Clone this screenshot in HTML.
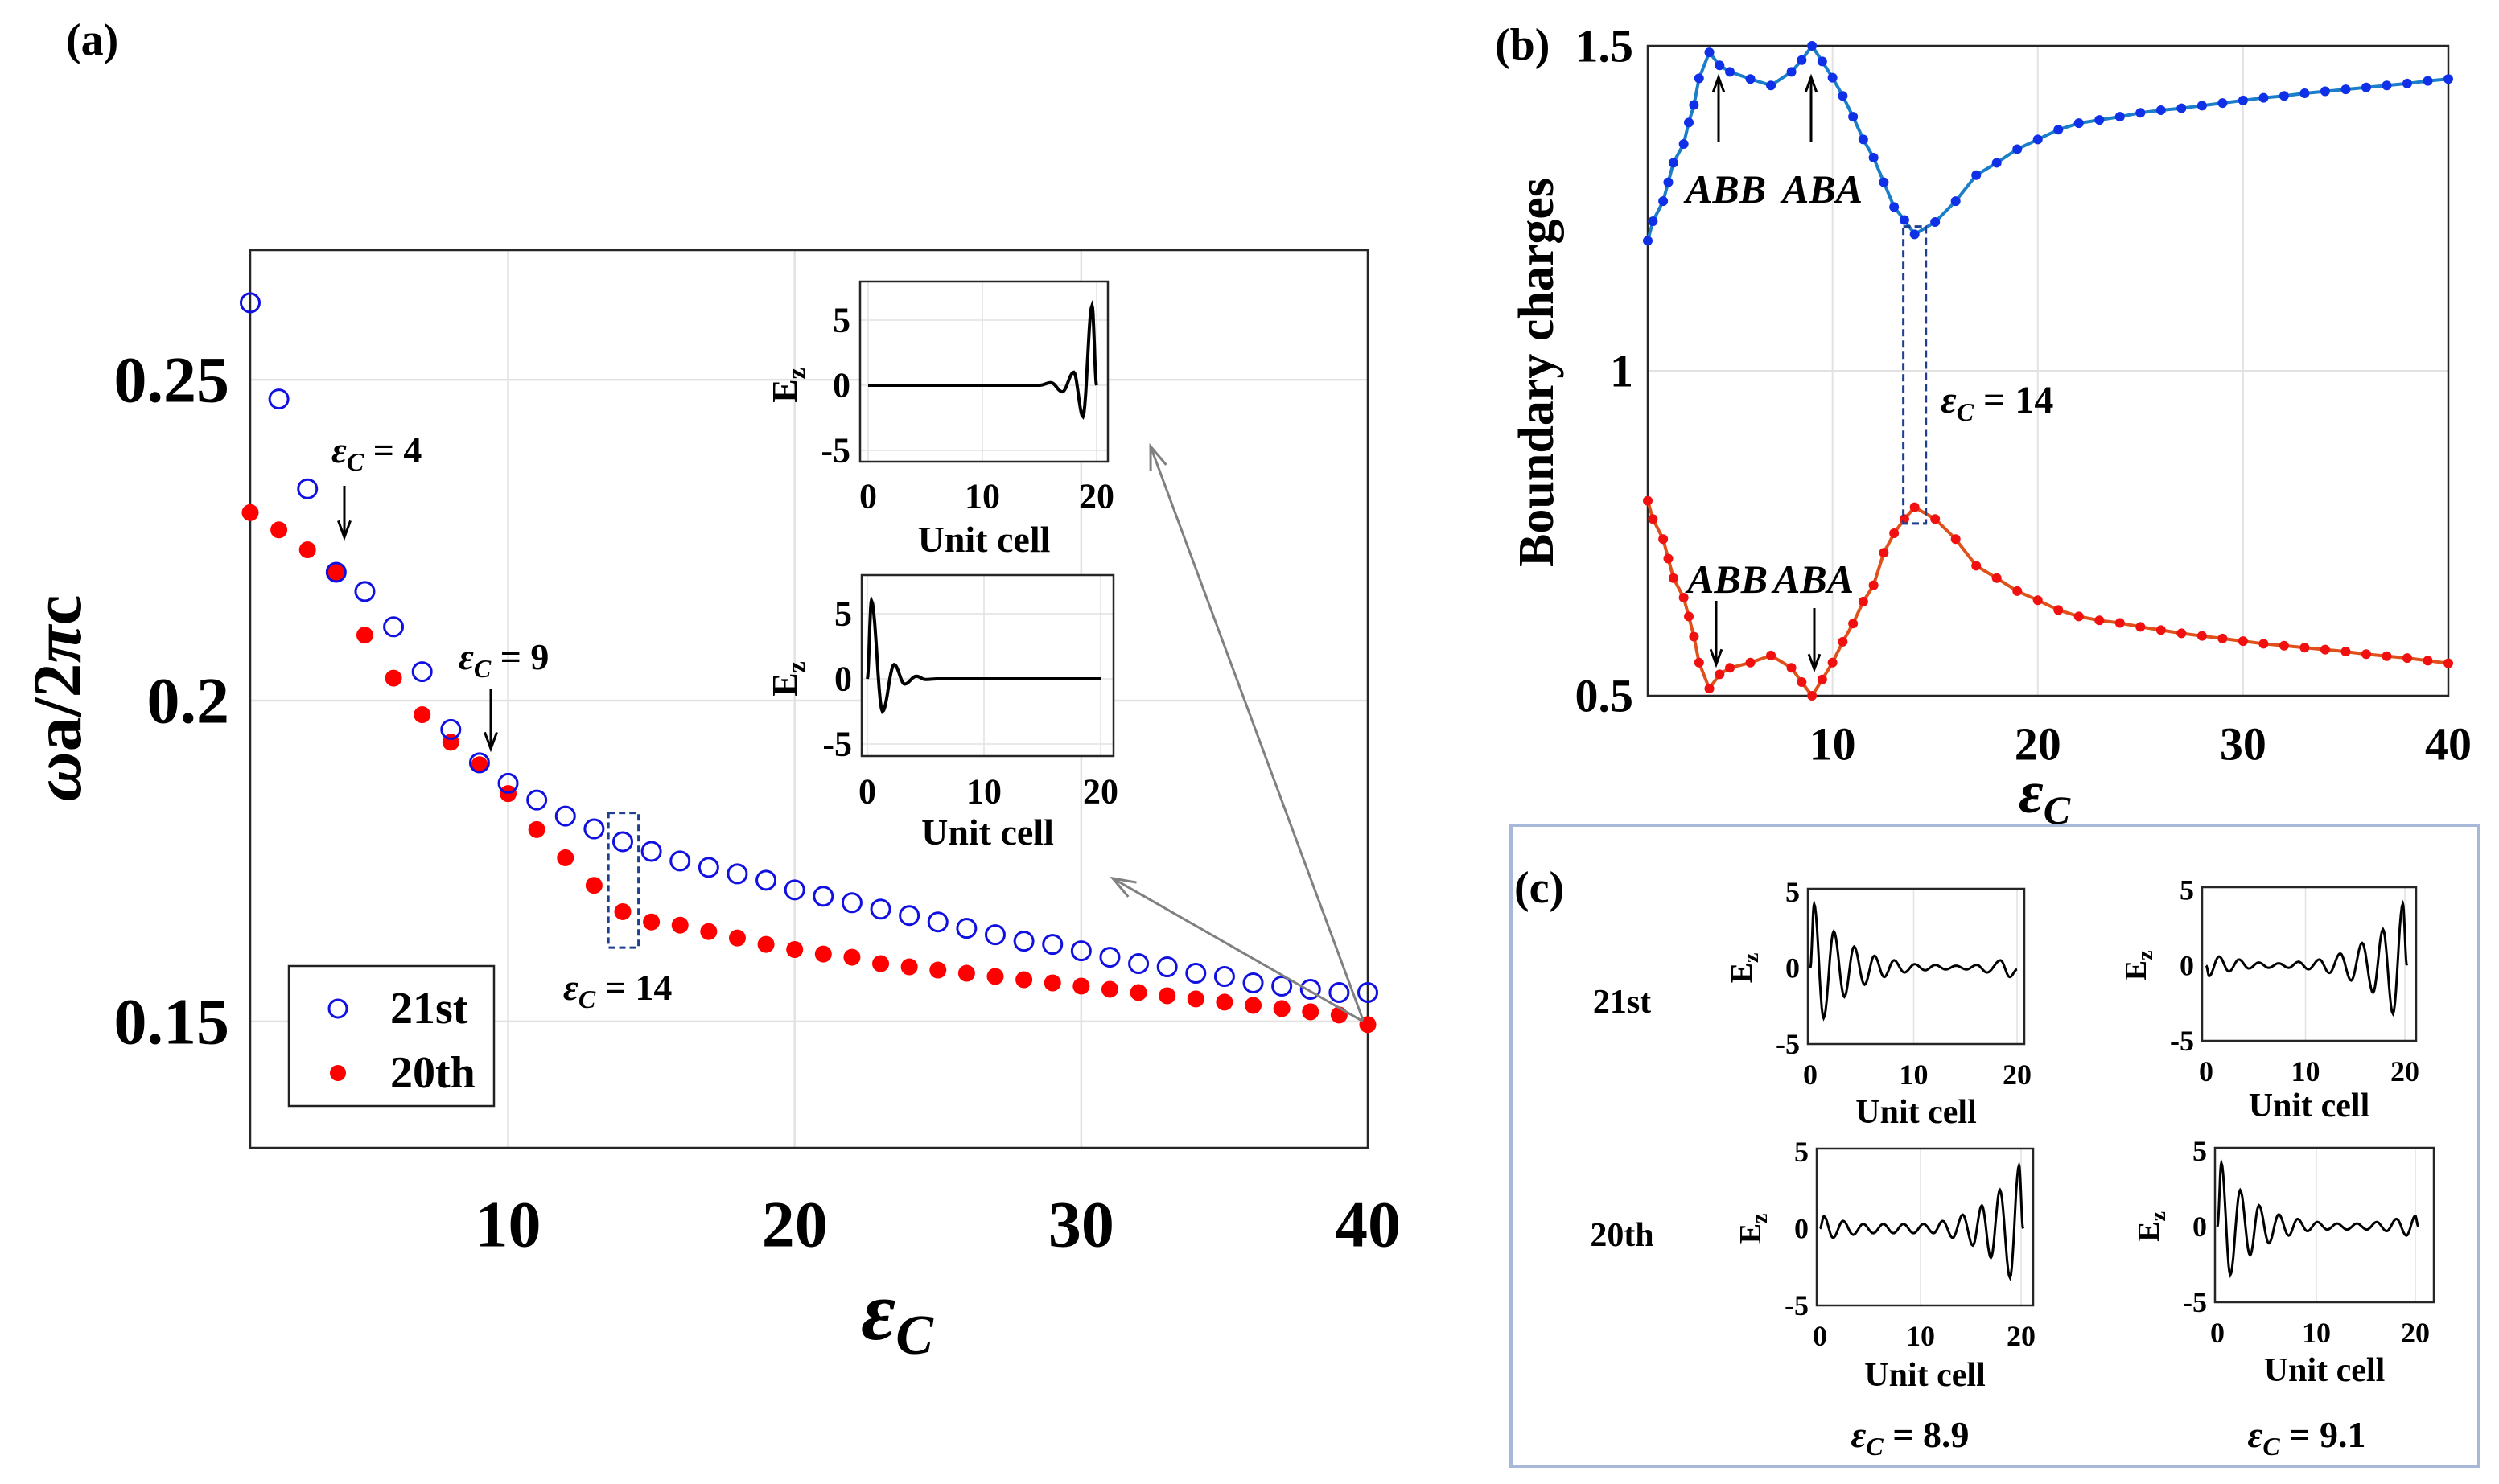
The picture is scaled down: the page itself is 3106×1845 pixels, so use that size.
<!DOCTYPE html>
<html><head><meta charset="utf-8"><style>
html,body{margin:0;padding:0;background:#fff;}
svg{display:block;font-family:"Liberation Serif",serif;}
.b{font-weight:bold;}
</style></head><body>
<svg id="fig" width="3106" height="1845" viewBox="0 0 3106 1845" xmlns="http://www.w3.org/2000/svg">
<rect width="3106" height="1845" fill="#fff"/>
<g id="pa"></g>
<g id="pb"></g>
<g id="pc"></g>
<!-- static labels -->
<text x="82" y="68" font-size="56" class="b">(a)</text>
<text x="1858" y="74" font-size="56" class="b">(b)</text>
<text x="1882" y="1122" font-size="56" class="b">(c)</text>
<text transform="translate(100,868) rotate(-90)" text-anchor="middle" font-size="86" class="b"><tspan font-style="italic">ω</tspan>a/2<tspan font-style="italic">π</tspan>c</text>
<text x="1115" y="1665" text-anchor="middle" font-size="105" class="b" font-style="italic">ε<tspan font-size="70" dy="18">C</tspan></text>
<text transform="translate(1930,463) rotate(-90)" text-anchor="middle" font-size="62" class="b">Boundary charges</text>
<text x="2541" y="1010" text-anchor="middle" font-size="75" class="b" font-style="italic">ε<tspan font-size="50" dy="14">C</tspan></text>
<!-- annotations a -->
<text x="412" y="575" font-size="46" class="b"><tspan font-style="italic">ε</tspan><tspan font-style="italic" font-size="32" dy="10">C</tspan><tspan dy="-10"> = 4</tspan></text>
<text x="570" y="832" font-size="46" class="b"><tspan font-style="italic">ε</tspan><tspan font-style="italic" font-size="32" dy="10">C</tspan><tspan dy="-10"> = 9</tspan></text>
<text x="700" y="1243" font-size="46" class="b"><tspan font-style="italic">ε</tspan><tspan font-style="italic" font-size="32" dy="10">C</tspan><tspan dy="-10"> = 14</tspan></text>
<!-- legend a -->
<g>
<rect x="359" y="1201" width="255" height="174" fill="#fff" stroke="#222" stroke-width="2.5"/>
<circle cx="420" cy="1254" r="11" fill="none" stroke="#1010e0" stroke-width="3"/>
<text x="485" y="1272" font-size="56" class="b">21st</text>
<circle cx="420" cy="1334" r="10" fill="#ff0000"/>
<text x="485" y="1352" font-size="56" class="b">20th</text>
</g>
<!-- annotations b -->
<text x="2095" y="252" font-size="50" class="b" font-style="italic">ABB</text>
<text x="2215" y="252" font-size="50" class="b" font-style="italic">ABA</text>
<text x="2097" y="737" font-size="50" class="b" font-style="italic">ABB</text>
<text x="2204" y="737" font-size="50" class="b" font-style="italic">ABA</text>
<text x="2412" y="513" font-size="48" class="b"><tspan font-style="italic">ε</tspan><tspan font-style="italic" font-size="32" dy="10">C</tspan><tspan dy="-10"> = 14</tspan></text>
<!-- panel c frame & labels -->
<rect x="1878" y="1026" width="1203" height="797" fill="none" stroke="#a8b8d8" stroke-width="4"/>
<text x="2016" y="1259" text-anchor="middle" font-size="42" class="b">21st</text>
<text x="2016" y="1549" text-anchor="middle" font-size="42" class="b">20th</text>
<text x="2374" y="1799" text-anchor="middle" font-size="46" class="b"><tspan font-style="italic">ε</tspan><tspan font-style="italic" font-size="32" dy="10">C</tspan><tspan dy="-10"> = 8.9</tspan></text>
<text x="2867" y="1799" text-anchor="middle" font-size="46" class="b"><tspan font-style="italic">ε</tspan><tspan font-style="italic" font-size="32" dy="10">C</tspan><tspan dy="-10"> = 9.1</tspan></text>
</svg>
<script>
// ---------- data: panel a ----------
const aX=[1,2,3,4,5,6,7,8,9,10,11,12,13,14,15,16,17,18,19,20,21,22,23,24,25,26,27,28,29,30,31,32,33,34,35,36,37,38,39,40];
const a21=[0.262,0.247,0.233,0.220,0.217,0.2115,0.2045,0.1955,0.1903,0.1871,0.1845,0.182,0.180,0.178,0.1765,0.175,0.174,0.173,0.172,0.1705,0.1695,0.1685,0.1675,0.1665,0.1655,0.1645,0.1635,0.1625,0.162,0.161,0.160,0.159,0.1585,0.1575,0.157,0.156,0.1555,0.155,0.1545,0.1545];
const a20=[0.2293,0.2266,0.2235,0.220,0.2102,0.2035,0.1978,0.1935,0.190,0.1855,0.1799,0.1755,0.1712,0.1671,0.1655,0.165,0.164,0.163,0.162,0.1612,0.1605,0.160,0.159,0.1585,0.158,0.1575,0.157,0.1565,0.156,0.1555,0.155,0.1545,0.154,0.1535,0.153,0.1525,0.152,0.1515,0.151,0.1495];
const aXTicks=[10,20,30,40];
const aYTicks=[0.15,0.2,0.25];
const aYTickLabels=["0.15","0.2","0.25"];
// inset curves (a)
const insTopX=[0,15,16,17,18,18.8,19.6,20];
const insTopY=[0,0,0.2,-0.5,1.0,-2.4,6.1,0];
const insBotX=[0,0.35,1.3,2.3,3.2,4.2,5,6,20];
const insBotY=[0,6.0,-2.5,1.1,-0.4,0.2,-0.05,0,0];
const insXTicks=[0,10,20];
const insYTicks=[-5,0,5];
// ---------- data: panel b ----------
const bX=[1,1.25,1.75,2,2.25,2.75,3,3.25,3.5,4,4.5,5,6,7,8,8.5,9,9.5,10,10.5,11,11.5,12,12.5,13,13.5,14,15,16,17,18,19,20,21,22,23,24,25,26,27,28,29,30,31,32,33,34,35,36,37,38,39,40];
const bBlue=[1.20,1.23,1.261,1.29,1.32,1.349,1.382,1.409,1.45,1.49,1.47,1.46,1.449,1.439,1.46,1.478,1.5,1.476,1.451,1.423,1.391,1.356,1.328,1.29,1.252,1.232,1.21,1.229,1.261,1.301,1.32,1.341,1.356,1.371,1.381,1.386,1.391,1.397,1.401,1.404,1.408,1.412,1.416,1.42,1.423,1.427,1.43,1.433,1.436,1.439,1.442,1.446,1.449];
const bRed=[0.8,0.772,0.741,0.711,0.681,0.651,0.622,0.591,0.551,0.511,0.533,0.543,0.551,0.562,0.543,0.521,0.5,0.525,0.551,0.583,0.611,0.645,0.67,0.72,0.75,0.772,0.79,0.772,0.741,0.7,0.681,0.661,0.647,0.632,0.622,0.616,0.612,0.606,0.601,0.596,0.592,0.588,0.584,0.58,0.577,0.574,0.571,0.568,0.564,0.561,0.558,0.554,0.55];
const bXTicks=[10,20,30,40];
const bYTicks=[0.5,1,1.5];
const bYTickLabels=["0.5","1","1.5"];
// ---------- data: panel c ----------
const c1X=[0,0.37,1.29,2.27,3.3,4.23,5.25,6.2,7.15,8.1,9.1,10.1,11.1,12.1,13.1,14.1,15.1,16.1,17.1,18.4,19.3,20];
const c1Y=[0,4.2,-3.3,2.4,-1.9,1.4,-1.1,0.8,-0.6,0.5,-0.3,0.25,-0.15,0.2,-0.1,0.15,-0.1,0.2,-0.3,0.5,-0.6,-0.1];
const c2X=[0,0.3,1.3,2.3,3.3,4.3,5.3,6.3,7.3,8.3,9.3,10.3,11.4,12.4,13.5,14.6,15.7,16.8,17.8,18.8,19.8,20.2];
const c2Y=[0,-0.7,0.6,-0.4,0.4,-0.2,0.2,-0.15,0.15,-0.15,0.25,-0.25,0.4,-0.5,0.8,-1.0,1.5,-1.8,2.4,-3.2,4.1,0];
const c3X=[0,0.4,1.3,2.3,3.3,4.3,5.3,6.3,7.3,8.3,9.3,10.3,11.3,12.2,13.2,14.2,15.2,16.1,17.0,17.9,18.9,19.8,20.2];
const c3Y=[0,0.8,-0.6,0.5,-0.4,0.3,-0.3,0.3,-0.3,0.3,-0.3,0.3,-0.3,0.5,-0.6,0.9,-1.1,1.5,-1.9,2.5,-3.2,4.1,0];
const c4X=[0,0.4,1.3,2.3,3.3,4.2,5.2,6.2,7.2,8.1,9.1,10.1,11.1,12.1,13.1,14.1,15.1,16.1,17.1,18.1,19.1,20,20.3];
const c4Y=[0,4.2,-3.2,2.4,-1.9,1.4,-1.1,0.8,-0.6,0.5,-0.3,0.3,-0.2,0.2,-0.2,0.2,-0.2,0.3,-0.3,0.5,-0.6,0.7,0];
const cXTicks=[0,10,20];
const cYTicks=[-5,0,5];

const NS="http://www.w3.org/2000/svg";
function mk(parent,tag,attrs){const e=document.createElementNS(NS,tag);for(const k in attrs)e.setAttribute(k,attrs[k]);parent.appendChild(e);return e;}
function lin(d0,d1,r0,r1){return v=>r0+(v-d0)/(d1-d0)*(r1-r0);}
function smoothPath(xs,ys,sx,sy){
  let d="M"+sx(xs[0]).toFixed(1)+","+sy(ys[0]).toFixed(1);
  for(let i=1;i<xs.length;i++){
    for(let k=1;k<=10;k++){const t=k/10;const m=(1-Math.cos(Math.PI*t))/2;
      const x=xs[i-1]+(xs[i]-xs[i-1])*t;const y=ys[i-1]+(ys[i]-ys[i-1])*m;
      d+=" L"+sx(x).toFixed(1)+","+sy(y).toFixed(1);}
  }
  return d;
}
function axesFrame(g,L,T,R,B,sx,sy,xt,yt,grid,name){
  const bg=mk(g,'rect',{x:L,y:T,width:R-L,height:B-T,fill:'#fff'});
  
  
  xt.forEach(v=>{const l=mk(g,'line',{x1:sx(v),x2:sx(v),y1:T,y2:B,stroke:'#e2e2e2','stroke-width':grid});
    
    });
  yt.forEach(v=>{const l=mk(g,'line',{x1:L,x2:R,y1:sy(v),y2:sy(v),stroke:'#e2e2e2','stroke-width':grid});
    
    });
  const fr=mk(g,'rect',{x:L,y:T,width:R-L,height:B-T,fill:'none',stroke:'#262626','stroke-width':2.5});
  
  
}
function txt(g,x,y,s,size,anchor,extra){const t=mk(g,'text',Object.assign({x:x,y:y,'font-size':size,'text-anchor':anchor,'font-weight':'bold','dominant-baseline':'central'},extra||{}));t.textContent=s;return t;}
function arrow(g,x1,y1,x2,y2,color,w,head){
  const l=mk(g,'line',{x1:x1,y1:y1,x2:x2,y2:y2,stroke:color,'stroke-width':w});
  
  
  const a=Math.atan2(y2-y1,x2-x1),h=head;
  const p=mk(g,'polyline',{points:(x2-h*Math.cos(a-0.35))+","+(y2-h*Math.sin(a-0.35))+" "+x2+","+y2+" "+(x2-h*Math.cos(a+0.35))+","+(y2-h*Math.sin(a+0.35)),fill:'none',stroke:color,'stroke-width':w});
  
  
}

// ---------- panel a ----------
(function(){
  const g=document.getElementById('pa');
  const L=311,R=1700,T=311,B=1427;
  const sx=lin(1,40,L,R), sy=lin(0.1303,0.2702,B,T);
  axesFrame(g,L,T,R,B,sx,sy,aXTicks,aYTicks,2.5,'main');
  aXTicks.forEach(v=>{const t=txt(g,sx(v),1522,String(v),82,'middle');
    
    });
  aYTicks.forEach((v,i)=>{const t=txt(g,285,sy(v),aYTickLabels[i],82,'end');
    
    });
  aX.forEach((x,i)=>{const c=mk(g,'circle',{cx:sx(x),cy:sy(a20[i]),r:10.5,fill:'#ff0000'});
    
    });
  aX.forEach((x,i)=>{const c=mk(g,'circle',{cx:sx(x),cy:sy(a21[i]),r:11.5,fill:'none',stroke:'#1010e0','stroke-width':3});
    
    });
  const dr=mk(g,'rect',{x:sx(13.5),y:sy(0.1825),width:sx(14.55)-sx(13.5),height:sy(0.1615)-sy(0.1825),fill:'none',stroke:'#1f3f8f','stroke-width':3,'stroke-dasharray':'8,5'});
  
  
  arrow(g,428,604,428,668,'#000',3,22);
  arrow(g,610,856,610,931,'#000',3,22);
  arrow(g,sx(40)-6,sy(0.1495)-6,1430,555,'#808080',3,30);
  arrow(g,sx(40)-6,sy(0.1495)-4,1383,1092,'#808080',3,30);
  // insets
  function inset(L,T,R,B,xs,ys,x0,x20,y5,ym5,labY,ulY,name){
    const ig=mk(g,'g',{});
    
    
    const sx=lin(0,20,x0,x20), sy=lin(-5,5,ym5,y5);
    axesFrame(ig,L,T,R,B,sx,sy,insXTicks,insYTicks,1.5,name);
    insXTicks.forEach(v=>{const t=txt(ig,sx(v),labY,String(v),44,'middle');
      
      });
    insYTicks.forEach(v=>{const t=txt(ig,L-12,sy(v),String(v),44,'end');
      
      });
    const p=mk(ig,'path',{d:smoothPath(xs,ys,sx,sy),fill:'none',stroke:'#000','stroke-width':4});
    
    
    const u=mk(ig,'text',{x:(L+R)/2,y:ulY,'font-size':46,'text-anchor':'middle','font-weight':'bold'});u.textContent='Unit cell';
    
    
    const e=mk(ig,'text',{transform:'translate(990,'+sy(0)+') rotate(-90)','font-size':44,'text-anchor':'middle','font-weight':'bold'});
    e.innerHTML='E<tspan font-size="32" dy="10">z</tspan>';
    
    
  }
  inset(1069,350,1377,574,insTopX,insTopY,1079,1363,398,560,617,686,'inset-top');
  inset(1071,715,1384,940,insBotX,insBotY,1078,1368,763,925,984,1050,'inset-bottom');
})();

// ---------- panel b ----------
(function(){
  const g=document.getElementById('pb');
  const L=2048,R=3043,T=57,B=865;
  const sx=lin(1,40,L,R), sy=lin(0.5,1.5,B,T);
  axesFrame(g,L,T,R,B,sx,sy,bXTicks,bYTicks,2,'charges');
  bXTicks.forEach(v=>{const t=txt(g,sx(v),925,String(v),58,'middle');
    
    });
  bYTicks.forEach((v,i)=>{const t=txt(g,2030,sy(v),bYTickLabels[i],58,'end');
    
    });
  function series(ys,lc,dc,name){
    const d=bX.map((x,i)=>(i?'L':'M')+sx(x).toFixed(1)+','+sy(ys[i]).toFixed(1)).join(' ');
    const p=mk(g,'path',{d:d,fill:'none',stroke:lc,'stroke-width':4});
    
    
    bX.forEach((x,i)=>{const c=mk(g,'circle',{cx:sx(x),cy:sy(ys[i]),r:6,fill:dc});
      
      });
  }
  series(bBlue,'#1a7fc8','#1030e8','charge-blue');
  series(bRed,'#e0501a','#f01010','charge-red');
  const dr=mk(g,'rect',{x:sx(13.45),y:sy(1.222),width:sx(14.55)-sx(13.45),height:sy(0.765)-sy(1.222),fill:'none',stroke:'#1f3f8f','stroke-width':3,'stroke-dasharray':'9,5'});
  
  
  arrow(g,2136,177,2136,96,'#000',3,20);
  arrow(g,2251,177,2251,96,'#000',3,20);
  arrow(g,2133,747,2133,826,'#000',3,20);
  arrow(g,2255,756,2255,832,'#000',3,20);
})();

// ---------- panel c ----------
(function(){
  const g=document.getElementById('pc');
  function small(L,T,R,B,x0,x20,xs,ys,ulY,name){
    const sg=mk(g,'g',{});
    
    
    const sx=lin(0,20,x0,x20), sy=lin(-5,5.2,B,T);
    axesFrame(sg,L,T,R,B,sx,sy,[10,20],[],1.5,name);
    cXTicks.forEach(v=>{const t=txt(sg,sx(v),B+38,String(v),36,'middle');
      
      });
    cYTicks.forEach(v=>{const t=txt(sg,L-10,sy(v),String(v),36,'end');
      
      });
    const p=mk(sg,'path',{d:smoothPath(xs,ys,sx,sy),fill:'none',stroke:'#000','stroke-width':3});
    
    
    const u=mk(sg,'text',{x:(L+R)/2,y:ulY,'font-size':42,'text-anchor':'middle','font-weight':'bold'});u.textContent='Unit cell';
    
    
    const e=mk(sg,'text',{transform:'translate('+(L-70)+','+sy(0)+') rotate(-90)','font-size':38,'text-anchor':'middle','font-weight':'bold'});
    e.innerHTML='E<tspan font-size="28" dy="8">z</tspan>';
    
    
  }
  small(2247,1105,2516,1298,2250,2507,c1X,c1Y,1396,'c-21st-eps8-9');
  small(2737,1103,3003,1294,2742,2989,c2X,c2Y,1388,'c-21st-eps9-1');
  small(2258,1428,2527,1623,2262,2512,c3X,c3Y,1723,'c-20th-eps8-9');
  small(2753,1427,3025,1619,2756,3002,c4X,c4Y,1717,'c-20th-eps9-1');
})();
</script>
</body></html>
